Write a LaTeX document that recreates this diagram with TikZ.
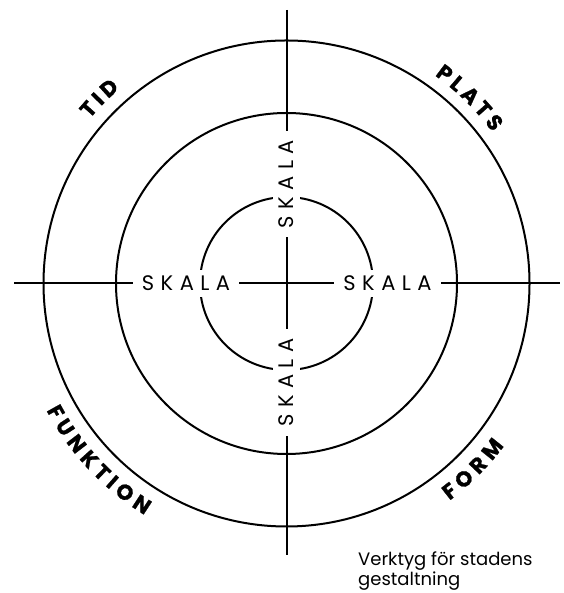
\documentclass[tikz,border=0pt]{standalone}
\usepackage{fontspec}
\setmainfont{Poppins}
\newdimen\chwlen
\newcommand\labfont{\bfseries\fontsize{21.5}{21.5}\selectfont\addfontfeature{FakeBold=1}}
\newcommand\skalafont{\fontsize{21}{21}\selectfont}
\newcommand\skalatext{S\kern6.5pt K\kern6.5pt A\kern6.5pt L\kern6.5pt A}
\newcommand\measureletters[1]{%
  \foreach \x in {#1}{%
    \settowidth{\chwlen}{\labfont\x}%
    \expandafter\xdef\csname lw@\x\endcsname{\the\chwlen}}}
% #1 radius, #2 centre angle, #3 direction (1 top, -1 bottom), #4 tracking, #5 letters, #6 name prefix
\newcommand\arclabel[6]{%
  \gdef\arctot{0}%
  \foreach \lt in {#5}{%
    \pgfmathsetmacro\chw{\csname lw@\lt\endcsname}%
    \pgfmathsetmacro\newtot{\arctot+\chw+#4}%
    \global\let\arctot\newtot}%
  \pgfmathsetmacro\arctotal{\arctot-#4}%
  \gdef\arcpos{0}%
  \foreach \lt [count=\i] in {#5}{%
    \pgfmathsetmacro\chw{\csname lw@\lt\endcsname}%
    \pgfmathsetmacro\ang{#2-(#3)*(\arcpos+\chw/2-\arctotal/2)/#1*57.29578}%
    \pgfmathsetmacro\rot{\ang-(#3)*90}%
    \node[lab, rotate=\rot] (#6\i) at ([shift={(\ang:#1)}]c) {\lt};%
    \pgfmathsetmacro\newpos{\arcpos+\chw+#4}%
    \global\let\arcpos\newpos}%
}
\tikzset{
  lab/.style={inner sep=0pt, font=\labfont, text height=15pt, text depth=0pt},
  skala/.style={fill=white, inner xsep=9pt, inner ysep=6pt, font=\skalafont, text height=14.7pt, text depth=0pt},
  ring/.style={line width=2pt},
  axis/.style={line width=2pt},
  note/.style={anchor=base west, inner sep=0pt, font=\fontsize{18}{18}\selectfont}
}
\begin{document}
\measureletters{T,I,D,P,L,A,S,F,U,N,K,O,R,M}%
\begin{tikzpicture}[x=1pt,y=1pt]
\useasboundingbox (0,0) rectangle (563,593);
\coordinate (c) at (286.5,309.5);
\draw[ring] (c) circle[radius=243];
\draw[ring] (c) circle[radius=170.5];
\draw[ring] (c) circle[radius=86.5];
\coordinate (top) at (286.5,583);
\coordinate (bot) at (286.5,38);
\coordinate (lft) at (14,309.5);
\coordinate (rgt) at (560,309.5);
\draw[axis] (top) -- (bot);
\draw[axis] (lft) -- (rgt);
\node[skala] (sl) at (186,309.5) {\skalatext};
\node[skala] (sr) at (387.5,309.5) {\skalatext};
\node[skala, rotate=90] (st) at (286.5,409) {\skalatext};
\node[skala, rotate=90] (sb) at (286.5,210.5) {\skalatext};
\arclabel{264}{135.3}{1}{4.5}{T,I,D}{tid}
\arclabel{263}{45.4}{1}{4.5}{P,L,A,T,S}{plats}
\arclabel{264}{223.2}{-1}{4.5}{F,U,N,K,T,I,O,N}{funk}
\arclabel{264}{-44.9}{-1}{4.5}{F,O,R,M}{form}
\node[note] (n1) at (358,27) {Verktyg för stadens};
\node[note] (n2) at (358,8) {gestaltning};
\end{tikzpicture}
\end{document}
